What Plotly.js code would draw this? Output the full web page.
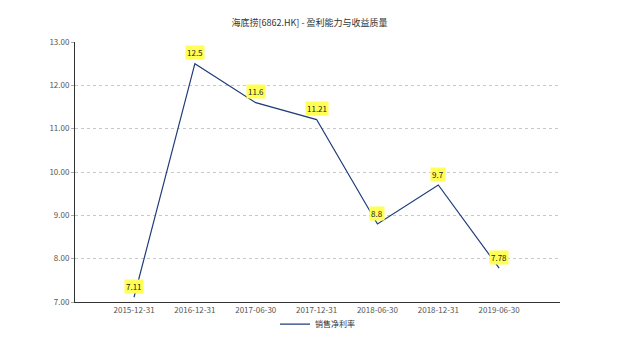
<!DOCTYPE html>
<html><head><meta charset="utf-8">
<script src="https://cdn.plot.ly/plotly-3.0.1.min.js"></script>
<style>body{margin:0;background:#fff}#c{width:619px;height:353px}</style>
</head><body><div id="c"></div>
<script>
const categories = ["2015-12-31","2016-12-31","2017-06-30","2017-12-31","2018-06-30","2018-12-31","2019-06-30"];
const values = [7.11, 12.5, 11.6, 11.21, 8.8, 9.7, 7.78];
const labels = ["7.11","12.5","11.6","11.21","8.8","9.7","7.78"];
const seriesName = "销售净利率";
const titleText = "海底捞[6862.HK] - 盈利能力与收益质量";

const font = "'Noto Sans CJK SC', 'Microsoft YaHei', sans-serif";
const annotations = categories.map((c, i) => ({
  x: i, y: values[i], xref: 'x', yref: 'y', text: labels[i], showarrow: false,
  yshift: 11, bgcolor: '#ffff55', borderpad: 1,
  font: {family: font, size: 8, color: '#222'}
}));

Plotly.newPlot('c', [{
  x: categories.map((c, i) => i), y: values, type: 'scatter', mode: 'lines',
  name: seriesName, line: {color: '#1f3c7a', width: 1.2}
}], {
  width: 619, height: 353,
  margin: {l: 75, r: 59, t: 42, b: 51, autoexpand: false},
  paper_bgcolor: '#fff', plot_bgcolor: '#fff',
  title: {text: titleText, x: 0.5, xanchor: 'center', y: 0.935, yanchor: 'middle',
    font: {family: font, size: 9, color: '#333'}},
  xaxis: {range: [-0.97, 7], tickvals: categories.map((c, i) => i), ticktext: categories,
    showgrid: false, zeroline: false, showline: true, linecolor: '#333', linewidth: 1,
    ticks: '', tickfont: {family: font, size: 8, color: '#555'}, fixedrange: true},
  yaxis: {range: [7, 13], dtick: 1, tickformat: '.2f', showgrid: true,
    gridcolor: '#c8c8c8', griddash: 'dot', gridwidth: 1, zeroline: false,
    showline: true, linecolor: '#333', linewidth: 1, ticks: 'outside', ticklen: 3,
    tickcolor: '#aaa', tickfont: {family: font, size: 8, color: '#555'}},
  showlegend: true,
  legend: {orientation: 'h', x: 0.5, xanchor: 'center', yref: 'container', y: 0.082, yanchor: 'middle',
    bgcolor: 'rgba(0,0,0,0)', itemwidth: 30, font: {family: font, size: 8, color: '#333'}},
  annotations: annotations
}, {displayModeBar: false});
</script></body></html>
